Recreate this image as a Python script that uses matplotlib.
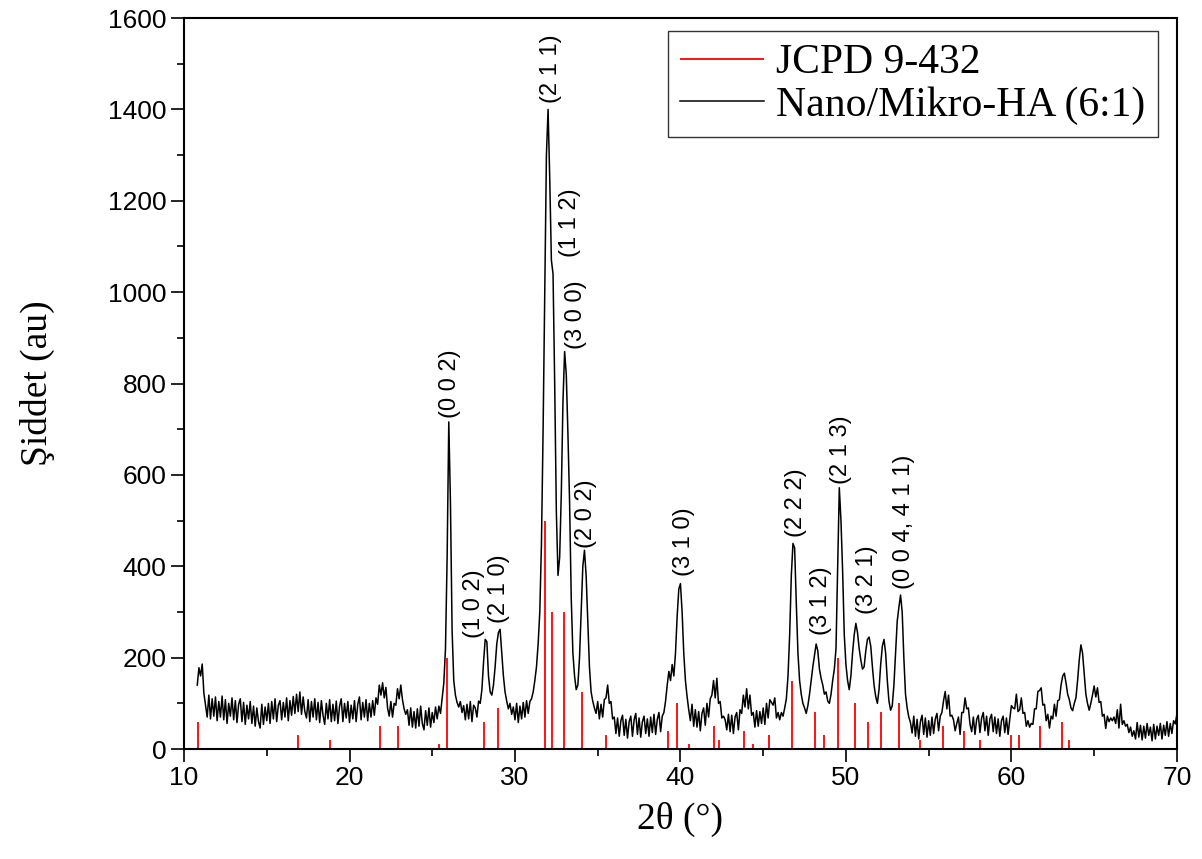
import numpy as np
import matplotlib
matplotlib.use('Agg')
import matplotlib.pyplot as plt
from matplotlib.ticker import MultipleLocator

# scan: start 10.8 deg, step 0.1 deg
scan_start = 10.8
scan_step = 0.1

# intensities, one row per degree
counts_10s = [140, 178,                                          # 10.8-10.9
              160, 186, 122, 96, 70, 118, 66, 110, 72, 114,      # 11
              62, 104, 70, 116, 64, 108, 56, 100, 72, 112,       # 12
              64, 106, 58, 98, 110, 60, 102, 54, 96, 66,         # 13
              104, 56, 94, 50, 90, 60, 46, 98, 54, 92,           # 14
              62, 100, 56, 104, 66, 110, 60, 96, 106, 64,        # 15
              102, 70, 112, 62, 106, 74, 115, 78, 120, 82,       # 16
              125, 76, 114, 82, 68, 108, 60, 104, 70, 110,       # 17
              64, 102, 58, 106, 74, 54, 100, 66, 108, 60,        # 18
              98, 62, 105, 56, 94, 110, 60, 100, 68, 104]        # 19
counts_20s = [58, 96, 66, 106, 60, 98, 114, 64, 102, 70,         # 20
              108, 62, 100, 70, 106, 74, 112, 98, 140, 118,      # 21
              145, 112, 135, 90, 72, 104, 70, 100, 96, 132,      # 22
              110, 140, 108, 88, 76, 86, 52, 90, 48, 82,         # 23
              46, 88, 50, 94, 56, 42, 84, 52, 90, 48,            # 24
              80, 58, 92, 66, 94, 78, 112, 145, 220, 420,        # 25
              716, 540, 260, 150, 118, 102, 92, 104, 80, 95,     # 26
              64, 98, 66, 104, 60, 96, 90, 70, 105, 100,         # 27
              130, 190, 240, 235, 160, 125, 118, 140, 180, 230,  # 28
              255, 262, 210, 160, 125, 105, 88, 100, 76, 92]     # 29
counts_30s = [64, 100, 58, 94, 66, 102, 70, 106, 78, 104,        # 30
              110, 125, 150, 180, 230, 300, 450, 700, 1000, 1300,  # 31
              1400, 1250, 1070, 1040, 800, 520, 380, 420, 560, 760,  # 32
              870, 820, 690, 540, 330, 210, 160, 130, 140, 200,  # 33
              300, 400, 435, 380, 280, 180, 125, 105, 90, 78,    # 34
              104, 66, 98, 70, 108, 112, 140, 100, 104, 66,      # 35
              70, 34, 68, 28, 62, 74, 30, 65, 24, 60,            # 36
              72, 28, 64, 78, 32, 68, 26, 60, 72, 34,            # 37
              66, 28, 70, 36, 76, 32, 65, 80, 38, 72,            # 38
              80, 105, 140, 170, 150, 185, 160, 210, 290, 350]   # 39
counts_40s = [362, 300, 210, 150, 115, 86, 62, 98, 50, 86,       # 40
              48, 82, 40, 78, 90, 52, 100, 70, 110, 118,         # 41
              150, 112, 155, 100, 104, 68, 72, 64, 42, 76,       # 42
              38, 74, 34, 70, 80, 42, 86, 78, 118, 92,           # 43
              132, 88, 118, 74, 80, 48, 84, 50, 82, 56,          # 44
              90, 54, 100, 68, 108, 102, 96, 112, 68, 80,        # 45
              64, 80, 72, 90, 110, 160, 250, 380, 450, 440,      # 46
              320, 210, 150, 120, 100, 90, 78, 95, 120, 150,     # 47
              180, 205, 230, 215, 175, 155, 140, 120, 125, 105,  # 48
              100, 120, 150, 175, 220, 400, 572, 500, 390, 250]  # 49
counts_50s = [185, 150, 130, 160, 210, 250, 275, 255, 220, 195,  # 50
              175, 180, 215, 240, 245, 225, 180, 140, 115, 100,  # 51
              130, 185, 225, 240, 210, 150, 105, 85, 95, 140,    # 52
              210, 280, 310, 337, 300, 200, 120, 90, 70, 58,     # 53
              35, 72, 28, 65, 22, 60, 74, 32, 68, 26,            # 54
              62, 30, 70, 34, 66, 78, 40, 72, 80, 106,           # 55
              126, 88, 118, 72, 74, 64, 40, 56, 70, 32,          # 56
              80, 80, 112, 88, 90, 54, 38, 70, 32, 65,           # 57
              74, 36, 68, 80, 40, 72, 30, 66, 76, 38,            # 58
              70, 34, 66, 28, 62, 72, 36, 68, 32, 65]            # 59
counts_60s = [95, 90, 88, 120, 82, 86, 112, 78, 80, 50,          # 60
              62, 48, 56, 54, 88, 88, 126, 128, 134, 96,         # 61
              98, 62, 76, 46, 72, 66, 98, 72, 106, 108,          # 62
              140, 160, 166, 145, 120, 108, 90, 84, 100, 112,    # 63
              150, 195, 228, 210, 165, 120, 100, 85, 100, 118,   # 64
              138, 114, 134, 102, 104, 72, 76, 45, 72, 60,       # 65
              68, 62, 70, 56, 86, 46, 98, 54, 62, 50,            # 66
              54, 36, 48, 28, 40, 22, 58, 26, 52, 20,            # 67
              50, 24, 56, 30, 48, 18, 54, 22, 50, 30,            # 68
              56, 22, 52, 30, 60, 28, 56, 34, 62, 55,            # 69
              76]                                                # 70

# JCPD 9-432 reference lines
ref_pos = [10.82, 16.9, 18.8, 21.85, 22.95, 25.4, 25.88, 28.15, 29.0, 31.8,
           32.22, 32.95, 34.08, 35.5, 39.25, 39.82, 40.5, 42.04, 42.35, 43.85,
           44.4, 45.35, 46.75, 48.15, 48.65, 49.52, 50.52, 51.32, 52.1, 53.2,
           54.46, 55.88, 57.14, 58.1, 60.0, 60.45, 61.7, 63.03, 63.48]
ref_int = [60, 30, 20, 50, 50, 10, 200, 60, 90, 500,
           300, 300, 125, 30, 40, 100, 10, 50, 20, 40,
           10, 30, 150, 80, 30, 200, 100, 60, 80, 100,
           20, 50, 40, 20, 30, 30, 50, 60, 20]

# peak labels: text, x, y of label foot
hkl_text = ['(0 0 2)', '(1 0 2)', '(2 1 0)', '(2 1 1)', '(1 1 2)', '(3 0 0)',
            '(2 0 2)', '(3 1 0)', '(2 2 2)', '(3 1 2)', '(2 1 3)', '(3 2 1)',
            '(0 0 4, 4 1 1)']
hkl_x = [26.1, 27.55, 29.05, 32.15, 33.35, 33.7, 34.3, 40.2, 47.0, 48.5, 49.7, 51.25, 53.5]
hkl_y = [725, 243, 275, 1415, 1077, 875, 440, 378, 465, 250, 580, 295, 350]

intensity = np.array(counts_10s + counts_20s + counts_30s + counts_40s + counts_50s + counts_60s)
two_theta = scan_start + scan_step * np.arange(len(intensity))

serif = 'Liberation Serif'
sans = 'Liberation Sans'

fig = plt.figure(figsize=(12.02, 8.59), dpi=100)
ax = fig.add_axes([0.1531, 0.128, 0.826, 0.851])

ax.vlines(ref_pos, 0, ref_int, color='red', lw=1.3, label='JCPD 9-432')
ax.plot(two_theta, intensity, color='black', lw=1.1, label='Nano/Mikro-HA (6:1)')

for t, x, y in zip(hkl_text, hkl_x, hkl_y):
    ax.text(x, y, t, rotation=90, ha='center', va='bottom', fontsize=17, family=sans)

ax.set_xlim(10, 70)
ax.set_ylim(0, 1600)
ax.xaxis.set_major_locator(MultipleLocator(10))
ax.xaxis.set_minor_locator(MultipleLocator(5))
ax.yaxis.set_major_locator(MultipleLocator(200))
ax.yaxis.set_minor_locator(MultipleLocator(100))
ax.tick_params(which='both', direction='out', top=False, right=False, width=1.2)
ax.tick_params(which='major', length=9.5, labelsize=19, pad=3)
ax.tick_params(which='minor', length=5)
for lab in ax.get_xticklabels() + ax.get_yticklabels():
    lab.set_family(sans)
for sp in ax.spines.values():
    sp.set_linewidth(1.5)

ax.set_xlabel('2θ (°)', family=serif, fontsize=27, labelpad=8)
ax.set_ylabel('Şiddet (au)', family=serif, fontsize=27, labelpad=38)

leg = ax.legend(loc='upper right', bbox_to_anchor=(0.981, 0.982), borderaxespad=0,
                prop={'family': serif, 'size': 30}, fancybox=False, framealpha=1,
                edgecolor='#333333', handlelength=2.0, handletextpad=0.3,
                labelspacing=0.1, borderpad=0.3)
leg.get_frame().set_linewidth(1.0)

fig.savefig('out.png', dpi=100)
